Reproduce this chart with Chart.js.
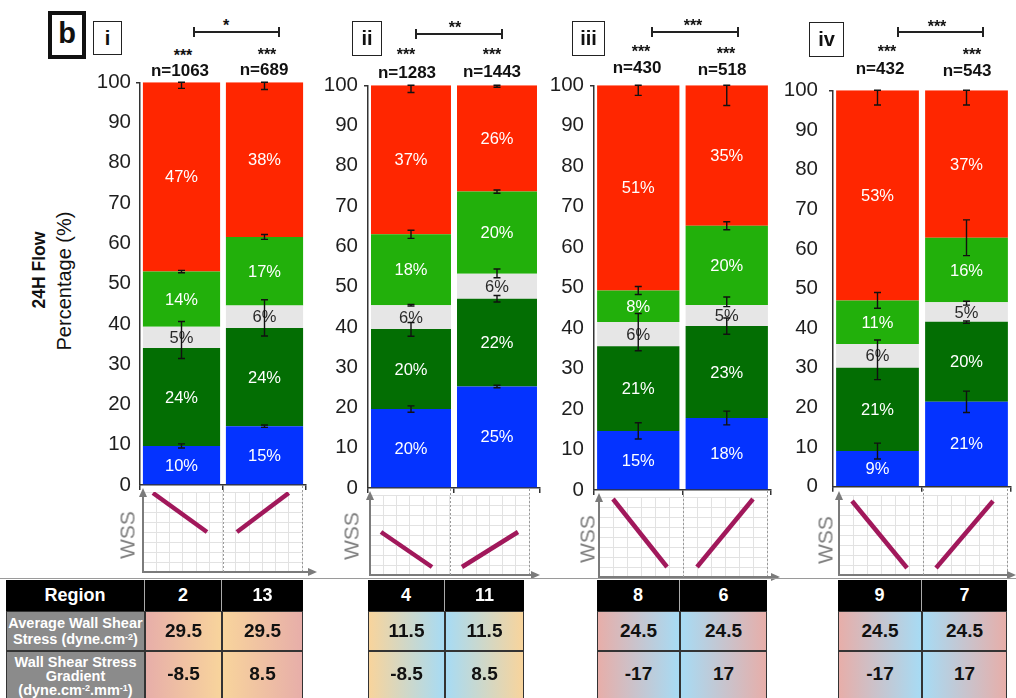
<!DOCTYPE html>
<html>
<head>
<meta charset="utf-8">
<script src="https://cdn.jsdelivr.net/npm/chart.js@4.4.1/dist/chart.umd.min.js"></script>
<style>
  html, body { margin: 0; padding: 0; background: #fff; }
  body { width: 1016px; height: 698px; overflow: hidden; position: relative;
         font-family: "Liberation Sans", Arial, Helvetica, sans-serif; color: #111; }
  canvas { position: absolute; }
  .lbl { position: absolute; transform: translate(-50%, -50%); white-space: nowrap; line-height: 1; }
  .box { position: absolute; box-sizing: border-box; display: flex; align-items: center; justify-content: center; }
  .cell { position: absolute; box-sizing: border-box; display: flex; align-items: center; justify-content: center; text-align: center; }
  .cell sup { font-size: 0.62em; vertical-align: 0.5em; line-height: 0; }
</style>
</head>
<body>
<script>
// ---- data -------------------------------------------------------------
const panelIds = ['i', 'ii', 'iii', 'iv'];
const regions = [['2', '13'], ['4', '11'], ['8', '6'], ['9', '7']];
const sampleSizes = [[1063, 689], [1283, 1443], [430, 518], [432, 543]];
const groupStars = [['***', '***'], ['***', '***'], ['***', '***'], ['***', '***']];
const pairStars = ['*', '**', '***', '***'];

// flow-class shares (%) per panel, [first region, second region]
const blueShare       = [[9.7, 14.6], [19.6, 25.2], [14.6, 17.8], [9.0, 21.4]];
const darkGreenShare  = [[24.3, 24.4], [19.9, 21.8], [20.9, 22.7], [21.0, 20.2]];
const greyShare       = [[5.3, 5.6], [5.9, 6.2], [6.0, 5.2], [6.0, 4.9]];
const lightGreenShare = [[13.7, 17.0], [17.6, 20.4], [7.8, 19.6], [11.0, 16.3]];
const redShare        = [[47.0, 38.4], [37.0, 26.4], [50.7, 34.7], [53.0, 37.2]];

// error bars: [centre, minus, plus] per bar
const errorBars = [
  [[[100, 1.5, 0], [53, 0.3, 0.3], [36, 4.6, 4.6], [9.7, 0.5, 0.5]],
   [[100, 1.8, 0], [61.6, 0.6, 0.6], [41.5, 4.5, 4.5], [14.6, 0.3, 0.3]]],
  [[[100, 1.8, 0], [63, 1, 1], [45.4, 0.2, 0.2], [39.4, 1.7, 1.7], [19.6, 0.8, 0.8]],
   [[100, 0.5, 0], [73.6, 0.4, 0.4], [53.3, 1.1, 1.1], [47, 0.8, 0.8], [25.2, 0.3, 0.3]]],
  [[[100, 2.5, 0], [49.3, 1, 1], [39, 4.6, 4.6], [14.6, 2, 2]],
   [[100, 5, 0], [65.3, 1, 1], [46.5, 1.2, 1.2], [40.5, 2, 2], [17.8, 1.7, 1.7]]],
  [[[100, 3.7, 0], [47, 2, 2], [32, 5, 5], [9, 2, 2]],
   [[100, 3.7, 0], [62.8, 4.5, 4.5], [46.3, 0.5, 0.5], [41.5, 0.3, 0.3], [21.4, 2.7, 2.7]]]
];

const yTicks = [0, 10, 20, 30, 40, 50, 60, 70, 80, 90, 100];

// WSS sketch lines: [x, y] end points
const wssFalling = [[[0.75, 7.9], [4.83, 4.0]], [[0.83, 4.3], [4.68, 0.8]], [[1.0, 7.8], [4.86, 1.0]], [[0.93, 7.4], [4.86, 0.7]]];
const wssRising  = [[[7.09, 4.0], [11.0, 7.9]], [[6.94, 0.8], [11.17, 4.3]], [[7.0, 1.0], [11.0, 7.8]], [[6.93, 0.7], [11.0, 7.4]]];

// table values
const avgWallShear = [[29.5, 29.5], [11.5, 11.5], [24.5, 24.5], [24.5, 24.5]];
const wallShearGradient = [[-8.5, 8.5], [-8.5, 8.5], [-17, 17], [-17, 17]];

// ---- layout & style ----------------------------------------------------
const FONT = '"Liberation Sans", Arial, Helvetica, sans-serif';
const barArea = [
  { l: 140, t: 80, r: 306, b: 485 },
  { l: 368, t: 82, r: 540, b: 488 },
  { l: 594, t: 82, r: 771, b: 490 },
  { l: 833, t: 82, r: 1011, b: 490 }
];
const tickGap = [9, 10, 10, 15];
const wssArea = [
  { l: 143, t: 492, r: 302, b: 572, tip: 317 },
  { l: 370, t: 495, r: 529, b: 575, tip: 540 },
  { l: 599, t: 497, r: 767, b: 577, tip: 780 },
  { l: 839, t: 495, r: 1007, b: 575, tip: 1016 }
];
const wssLabelPos = [[127, 535], [351, 536], [587, 539], [825, 540]];
const panelBox = [
  { x: 93, y: 21, w: 29, h: 34 }, { x: 352, y: 21, w: 30, h: 35 },
  { x: 572, y: 21, w: 33, h: 35 }, { x: 809, y: 22, w: 35, h: 35 }
];
const bracketPos = [
  { x1: 194, x2: 279, y: 32, sx: 226, sy: 22 }, { x1: 416, x2: 502, y: 34, sx: 455, sy: 24 },
  { x1: 652, x2: 738, y: 32, sx: 693, sy: 22 }, { x1: 898, x2: 983, y: 32, sx: 937, sy: 23 }
];
const starPos = [[[183, 52], [267, 51]], [[406, 51], [492, 51]], [[641, 48], [726, 50]], [[887, 48], [972, 51]]];
const nPos = [[[180, 70], [264, 69]], [[407, 72], [492, 71]], [[637, 67], [722, 69]], [[880, 68], [967, 70]]];
const tableCols = [[145, 222, 303], [368, 445, 524], [597, 680, 767], [838, 922, 1007]];

const PINK = '#e7aea9', ORANGE = '#f8d49c', BLUE = '#a7dbf4';
const cellFades = [[[PINK, ORANGE], [ORANGE, PINK]], [[ORANGE, BLUE], [BLUE, ORANGE]],
                   [[PINK, BLUE], [BLUE, PINK]], [[PINK, BLUE], [BLUE, PINK]]];

const segments = [
  { name: 'Blue', values: blueShare, color: '#0433ff', text: '#ffffff' },
  { name: 'Dark green', values: darkGreenShare, color: '#036e03', text: '#ffffff' },
  { name: 'Grey', values: greyShare, color: '#e6e6e6', text: '#2a2a2a' },
  { name: 'Light green', values: lightGreenShare, color: '#22b00b', text: '#ffffff' },
  { name: 'Red', values: redShare, color: '#ff2600', text: '#ffffff' }
];

// ---- helpers -------------------------------------------------------------
function makeCanvas(x, y, w, h) {
  const c = document.createElement('canvas');
  c.width = w; c.height = h;
  c.style.left = x + 'px'; c.style.top = y + 'px';
  c.style.width = w + 'px'; c.style.height = h + 'px';
  document.body.appendChild(c);
  return c;
}
function place(html, x, y, css) {
  const d = document.createElement('div');
  d.className = 'lbl';
  d.innerHTML = html;
  d.style.cssText = 'left:' + x + 'px;top:' + y + 'px;' + (css || '');
  document.body.appendChild(d);
  return d;
}
function block(cls, x, y, w, h, css, html) {
  const d = document.createElement('div');
  d.className = cls;
  d.style.cssText = 'left:' + x + 'px;top:' + y + 'px;width:' + w + 'px;height:' + h + 'px;' + (css || '');
  if (html !== undefined) d.innerHTML = '<div>' + html + '</div>';
  document.body.appendChild(d);
  return d;
}

// percentage labels in the middle of each stacked segment
const segmentLabels = {
  id: 'segmentLabels',
  afterDatasetsDraw(chart) {
    const ctx = chart.ctx;
    chart.data.datasets.forEach((ds, di) => {
      chart.getDatasetMeta(di).data.forEach((el, i) => {
        const p = el.getProps(['x', 'y', 'base'], true);
        ctx.save();
        ctx.fillStyle = ds.textColor;
        ctx.font = '16.5px ' + FONT;
        ctx.textAlign = 'center';
        ctx.textBaseline = 'middle';
        ctx.fillText(Math.round(ds.data[i]) + '%', p.x, (p.y + p.base) / 2 + 1);
        ctx.restore();
      });
    });
  }
};

function errorBarPlugin(items) {
  return {
    id: 'errorBars',
    afterDatasetsDraw(chart) {
      const ctx = chart.ctx, y = chart.scales.y, meta = chart.getDatasetMeta(0);
      ctx.save();
      ctx.strokeStyle = '#111';
      ctx.lineWidth = 1.4;
      items.forEach((bars, bi) => {
        const x = meta.data[bi].x;
        bars.forEach(([c, lo, hi]) => {
          const y1 = y.getPixelForValue(c - lo), y2 = y.getPixelForValue(c + hi);
          ctx.beginPath();
          ctx.moveTo(x, y1); ctx.lineTo(x, y2);
          ctx.moveTo(x - 3.5, y1); ctx.lineTo(x + 3.5, y1);
          ctx.moveTo(x - 3.5, y2); ctx.lineTo(x + 3.5, y2);
          ctx.stroke();
        });
      });
      ctx.restore();
    }
  };
}

function wssFrame(tipLocal) {
  return {
    id: 'wssFrame',
    beforeDatasetsDraw(chart) {
      const { ctx, chartArea: a, scales: { x } } = chart;
      ctx.save();
      ctx.strokeStyle = '#9a9a9a';
      ctx.lineWidth = 1;
      ctx.setLineDash([2, 2]);
      [6, 12].forEach(v => {
        const px = Math.round(x.getPixelForValue(v)) + 0.5;
        ctx.beginPath(); ctx.moveTo(px, a.bottom); ctx.lineTo(px, a.top - 6); ctx.stroke();
      });
      ctx.restore();
    },
    afterDraw(chart) {
      const { ctx, chartArea: a } = chart;
      ctx.save();
      ctx.strokeStyle = ctx.fillStyle = '#7b7b7b';
      ctx.lineWidth = 2;
      ctx.beginPath(); ctx.moveTo(a.right, a.bottom); ctx.lineTo(tipLocal - 6, a.bottom); ctx.stroke();
      ctx.beginPath(); ctx.moveTo(tipLocal, a.bottom); ctx.lineTo(tipLocal - 9, a.bottom - 4);
      ctx.lineTo(tipLocal - 9, a.bottom + 4); ctx.closePath(); ctx.fill();
      ctx.beginPath(); ctx.moveTo(a.left, a.top - 4); ctx.lineTo(a.left - 4, a.top + 5);
      ctx.lineTo(a.left + 4, a.top + 5); ctx.closePath(); ctx.fill();
      ctx.restore();
    }
  };
}

// ---- stacked bar panels -------------------------------------------------
panelIds.forEach((id, p) => {
  const A = barArea[p];
  const padTop = 15, padRight = 4, padBottom = 12, yW = 50, xH = 8;
  const cx = A.l - yW, cy = A.t - padTop;
  const cw = A.r - A.l + yW + padRight, ch = A.b - A.t + padTop + xH + padBottom;
  const canvas = makeCanvas(cx, cy, cw, ch);
  new Chart(canvas, {
    type: 'bar',
    data: {
      labels: regions[p],
      datasets: segments.map(s => ({
        label: s.name, data: s.values[p], backgroundColor: s.color, borderWidth: 0,
        categoryPercentage: 1, barPercentage: 0.93, textColor: s.text
      }))
    },
    options: {
      responsive: false, animation: false, devicePixelRatio: 1,
      layout: { padding: { top: padTop, right: padRight, bottom: padBottom, left: 0 } },
      plugins: { legend: { display: false }, tooltip: { enabled: false } },
      scales: {
        x: {
          stacked: true,
          ticks: { display: false },
          grid: { display: true, drawOnChartArea: false, drawTicks: true, tickLength: 5,
                  color: '#333', lineWidth: 1.5, offset: true },
          border: { display: true, color: '#333', width: 1.5 },
          afterFit: s => { s.height = xH; }
        },
        y: {
          stacked: true, min: 0, max: 100,
          afterBuildTicks: s => { s.ticks = yTicks.map(v => ({ value: v })); },
          ticks: { padding: tickGap[p] - 4, color: '#1e1e1e', font: { size: 20.5, family: FONT } },
          grid: { drawOnChartArea: false, drawTicks: true, tickLength: 4, lineWidth: 1.5,
                  color: c => (c.tick && c.tick.value === 100) ? '#333' : 'rgba(0,0,0,0)' },
          border: { display: true, color: '#333', width: 1.5 },
          afterFit: s => { s.width = yW; }
        }
      }
    },
    plugins: [segmentLabels, errorBarPlugin(errorBars[p])]
  });
});

// ---- WSS sketches ---------------------------------------------------------
panelIds.forEach((id, p) => {
  const A = wssArea[p];
  const padL = 12, padT = 12, padB = 6;
  const cx = A.l - padL, cy = A.t - padT;
  const cw = A.tip - A.l + padL + 4, ch = A.b - A.t + padT + padB;
  const canvas = makeCanvas(cx, cy, cw, ch);
  const toPts = arr => arr.map(([x, y]) => ({ x, y }));
  new Chart(canvas, {
    type: 'line',
    data: {
      datasets: [
        { data: toPts(wssFalling[p]), borderColor: '#a1185b', borderWidth: 4.5, pointRadius: 0 },
        { data: toPts(wssRising[p]), borderColor: '#a1185b', borderWidth: 4.5, pointRadius: 0 }
      ]
    },
    options: {
      responsive: false, animation: false, devicePixelRatio: 1,
      layout: { padding: { left: padL, top: padT, bottom: padB, right: cw - padL - (A.r - A.l) } },
      plugins: { legend: { display: false }, tooltip: { enabled: false } },
      scales: {
        x: {
          type: 'linear', min: 0, max: 12,
          ticks: { display: false, stepSize: 1 },
          grid: { color: '#e2e2e2', lineWidth: 1, drawTicks: false },
          border: { color: '#7b7b7b', width: 2 },
          afterFit: s => { s.height = 0; }
        },
        y: {
          type: 'linear', min: 0, max: 8,
          ticks: { display: false, stepSize: 1 },
          grid: { color: '#e2e2e2', lineWidth: 1, drawTicks: false },
          border: { color: '#7b7b7b', width: 2 },
          afterFit: s => { s.width = 0; }
        }
      }
    },
    plugins: [wssFrame(A.tip - cx)]
  });
  place('WSS', wssLabelPos[p][0], wssLabelPos[p][1],
        'font-size:21px;color:#7d7d7d;transform:translate(-50%,-50%) rotate(-90deg);');
});

// ---- headings, counts and significance -----------------------------------
block('box', 48, 11, 38, 48, 'border:4px solid #111;font-weight:bold;font-size:29px;padding-bottom:3px;', 'b');
panelIds.forEach((id, p) => {
  const b = panelBox[p];
  block('box', b.x, b.y, b.w, b.h, 'border:1.5px solid #222;font-weight:bold;font-size:20px;', id);
  const br = bracketPos[p];
  block('box', br.x1, br.y - 1, br.x2 - br.x1, 2, 'background:#222;');
  block('box', br.x1 - 1, br.y - 5, 2, 10, 'background:#222;');
  block('box', br.x2 - 1, br.y - 5, 2, 10, 'background:#222;');
  place(pairStars[p], br.sx, br.sy + 4, 'font-size:16px;font-weight:bold;');
  for (let k = 0; k < 2; k++) {
    place(groupStars[p][k], starPos[p][k][0], starPos[p][k][1] + 4, 'font-size:16px;font-weight:bold;');
    place('n=' + sampleSizes[p][k], nPos[p][k][0], nPos[p][k][1], 'font-size:17px;font-weight:bold;');
  }
});

// y-axis title
place('24H Flow', 40, 270, 'font-size:17.5px;font-weight:bold;transform:translate(-50%,-50%) rotate(-90deg);');
place('Percentage (%)', 64, 281, 'font-size:20px;transform:translate(-50%,-50%) rotate(-90deg);');

// ---- region table --------------------------------------------------------
block('box', 0, 578, 1016, 1, 'background:#9a9a9a;');
const rowY = [580, 611, 651], rowH = [31, 40, 50];
block('cell', 6, rowY[0], 139, rowH[0], 'background:#000;color:#fff;font-weight:bold;font-size:18px;border-right:1px solid #aaa;', 'Region');
block('cell', 6, rowY[1], 139, rowH[1],
      'background:#8b8b8b;color:#fff;font-weight:bold;font-size:14.5px;line-height:16px;border:1px solid #333;',
      'Average Wall Shear<br>Stress (dyne.cm<sup>-2</sup>)');
block('cell', 6, rowY[2], 139, rowH[2],
      'background:#8b8b8b;color:#fff;font-weight:bold;font-size:14.5px;line-height:14px;border:1px solid #333;align-items:flex-start;padding-top:3px;',
      'Wall Shear Stress<br>Gradient<br>(dyne.cm<sup>-2</sup>.mm<sup>-1</sup>)');
panelIds.forEach((id, p) => {
  const cols = tableCols[p];
  for (let k = 0; k < 2; k++) {
    const x = cols[k], w = cols[k + 1] - cols[k];
    const fade = 'background:linear-gradient(to right,' + cellFades[p][k][0] + ',' + cellFades[p][k][1] + ');';
    block('cell', x, rowY[0], w, rowH[0],
          'background:#000;color:#fff;font-weight:bold;font-size:18px;' + (k === 0 ? 'border-right:1px solid #aaa;' : ''),
          regions[p][k]);
    block('cell', x, rowY[1], w, rowH[1], fade + 'border:1px solid #333;font-weight:bold;font-size:19px;',
          String(avgWallShear[p][k]));
    block('cell', x, rowY[2], w, rowH[2], fade + 'border:1px solid #333;font-weight:bold;font-size:19px;padding-bottom:4px;',
          String(wallShearGradient[p][k]));
  }
});
</script>
</body>
</html>
